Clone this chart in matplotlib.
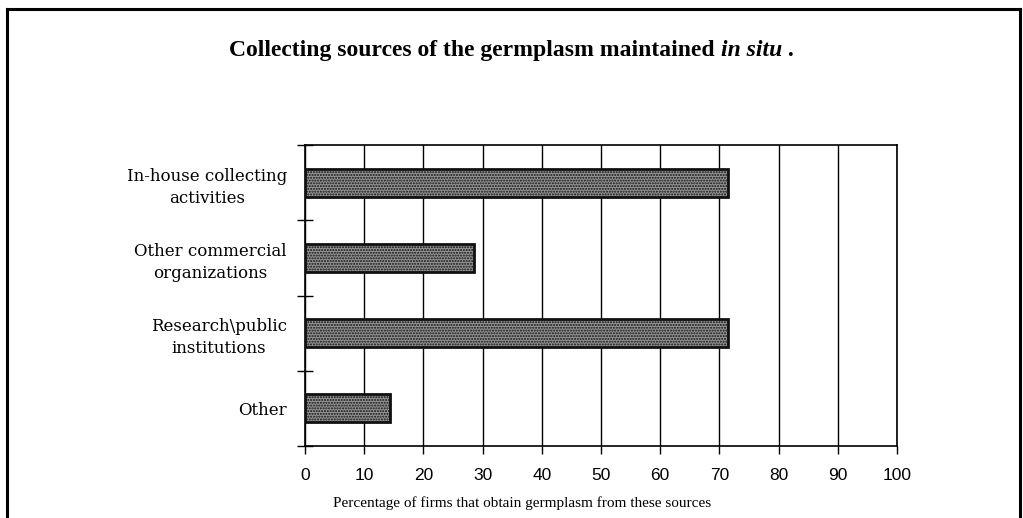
"""Horizontal bar chart: collecting sources of germplasm maintained in situ."""

import matplotlib.pyplot as plt

categories = [
    "In-house collecting\nactivities",
    "Other commercial\norganizations",
    "Research\\public\ninstitutions",
    "Other",
]
percentages = [71.4, 28.6, 71.4, 14.3]
x_ticks = [0, 10, 20, 30, 40, 50, 60, 70, 80, 90, 100]

plt.rcParams["font.family"] = ["Liberation Serif", "DejaVu Serif"]
plt.rcParams["hatch.color"] = "#6a6a6a"

fig = plt.figure(figsize=(10.23, 5.18), dpi=100)
ax = fig.add_axes([0.2981, 0.139, 0.5787, 0.581])

# outer frame of the original picture (no bottom edge visible)
frame_kw = dict(transform=fig.transFigure, color="black", lw=2.2, clip_on=False)
fig.add_artist(plt.Line2D([0.0064, 0.0064], [0.0, 0.983], **frame_kw))
fig.add_artist(plt.Line2D([0.0064, 0.9975], [0.983, 0.983], **frame_kw))
fig.add_artist(plt.Line2D([0.9975, 0.9975], [0.0, 0.983], **frame_kw))

positions = list(range(len(categories)))[::-1]
ax.barh(positions, percentages, height=0.37, color="#959595",
        edgecolor="#111111", linewidth=2.0, hatch="......", zorder=3)

ax.set_xlim(0, 100)
ax.set_ylim(-0.5, len(categories) - 0.5)
ax.set_xticks(x_ticks)
ax.set_xticklabels([str(t) for t in x_ticks], fontsize=12.5,
                   family="Liberation Sans")
ax.xaxis.grid(True, color="black", linewidth=1.0, zorder=0)
ax.tick_params(axis="x", direction="out", length=6, width=1.0, pad=10)

ax.set_yticks(positions)
ax.set_yticklabels(categories, fontsize=12, multialignment="center",
                   family="DejaVu Serif", linespacing=1.4)
ax.set_yticks([p + 0.5 for p in range(-1, len(categories))], minor=True)
ax.tick_params(axis="y", which="major", length=0, pad=13)
ax.tick_params(axis="y", which="minor", direction="inout", length=12, width=1.0)

for side in ["left", "bottom", "top", "right"]:
    ax.spines[side].set_linewidth(1.2)

ax.set_xlabel("Percentage of firms that obtain germplasm from these sources",
              fontsize=11, va="center")
ax.xaxis.set_label_coords(0.367, -0.19)

# title: bold text followed by bold italic "in situ", centred as one line
title_y = 0.903
t1 = fig.text(0, title_y, "Collecting sources of the germplasm maintained ",
              ha="left", va="center", fontsize=17, fontweight="bold")
t2 = fig.text(0, title_y, "in situ", ha="left", va="center", fontsize=17,
              fontweight="bold", fontstyle="italic")
t3 = fig.text(0, title_y, " .", ha="left", va="center", fontsize=17,
              fontweight="bold")
fig.canvas.draw()
renderer = fig.canvas.get_renderer()
widths = [t.get_window_extent(renderer).width / fig.bbox.width for t in (t1, t2, t3)]
x = 0.5 - sum(widths) / 2
for t, w in zip((t1, t2, t3), widths):
    t.set_x(x)
    x += w

fig.savefig("out.png", dpi=100, facecolor="white")
